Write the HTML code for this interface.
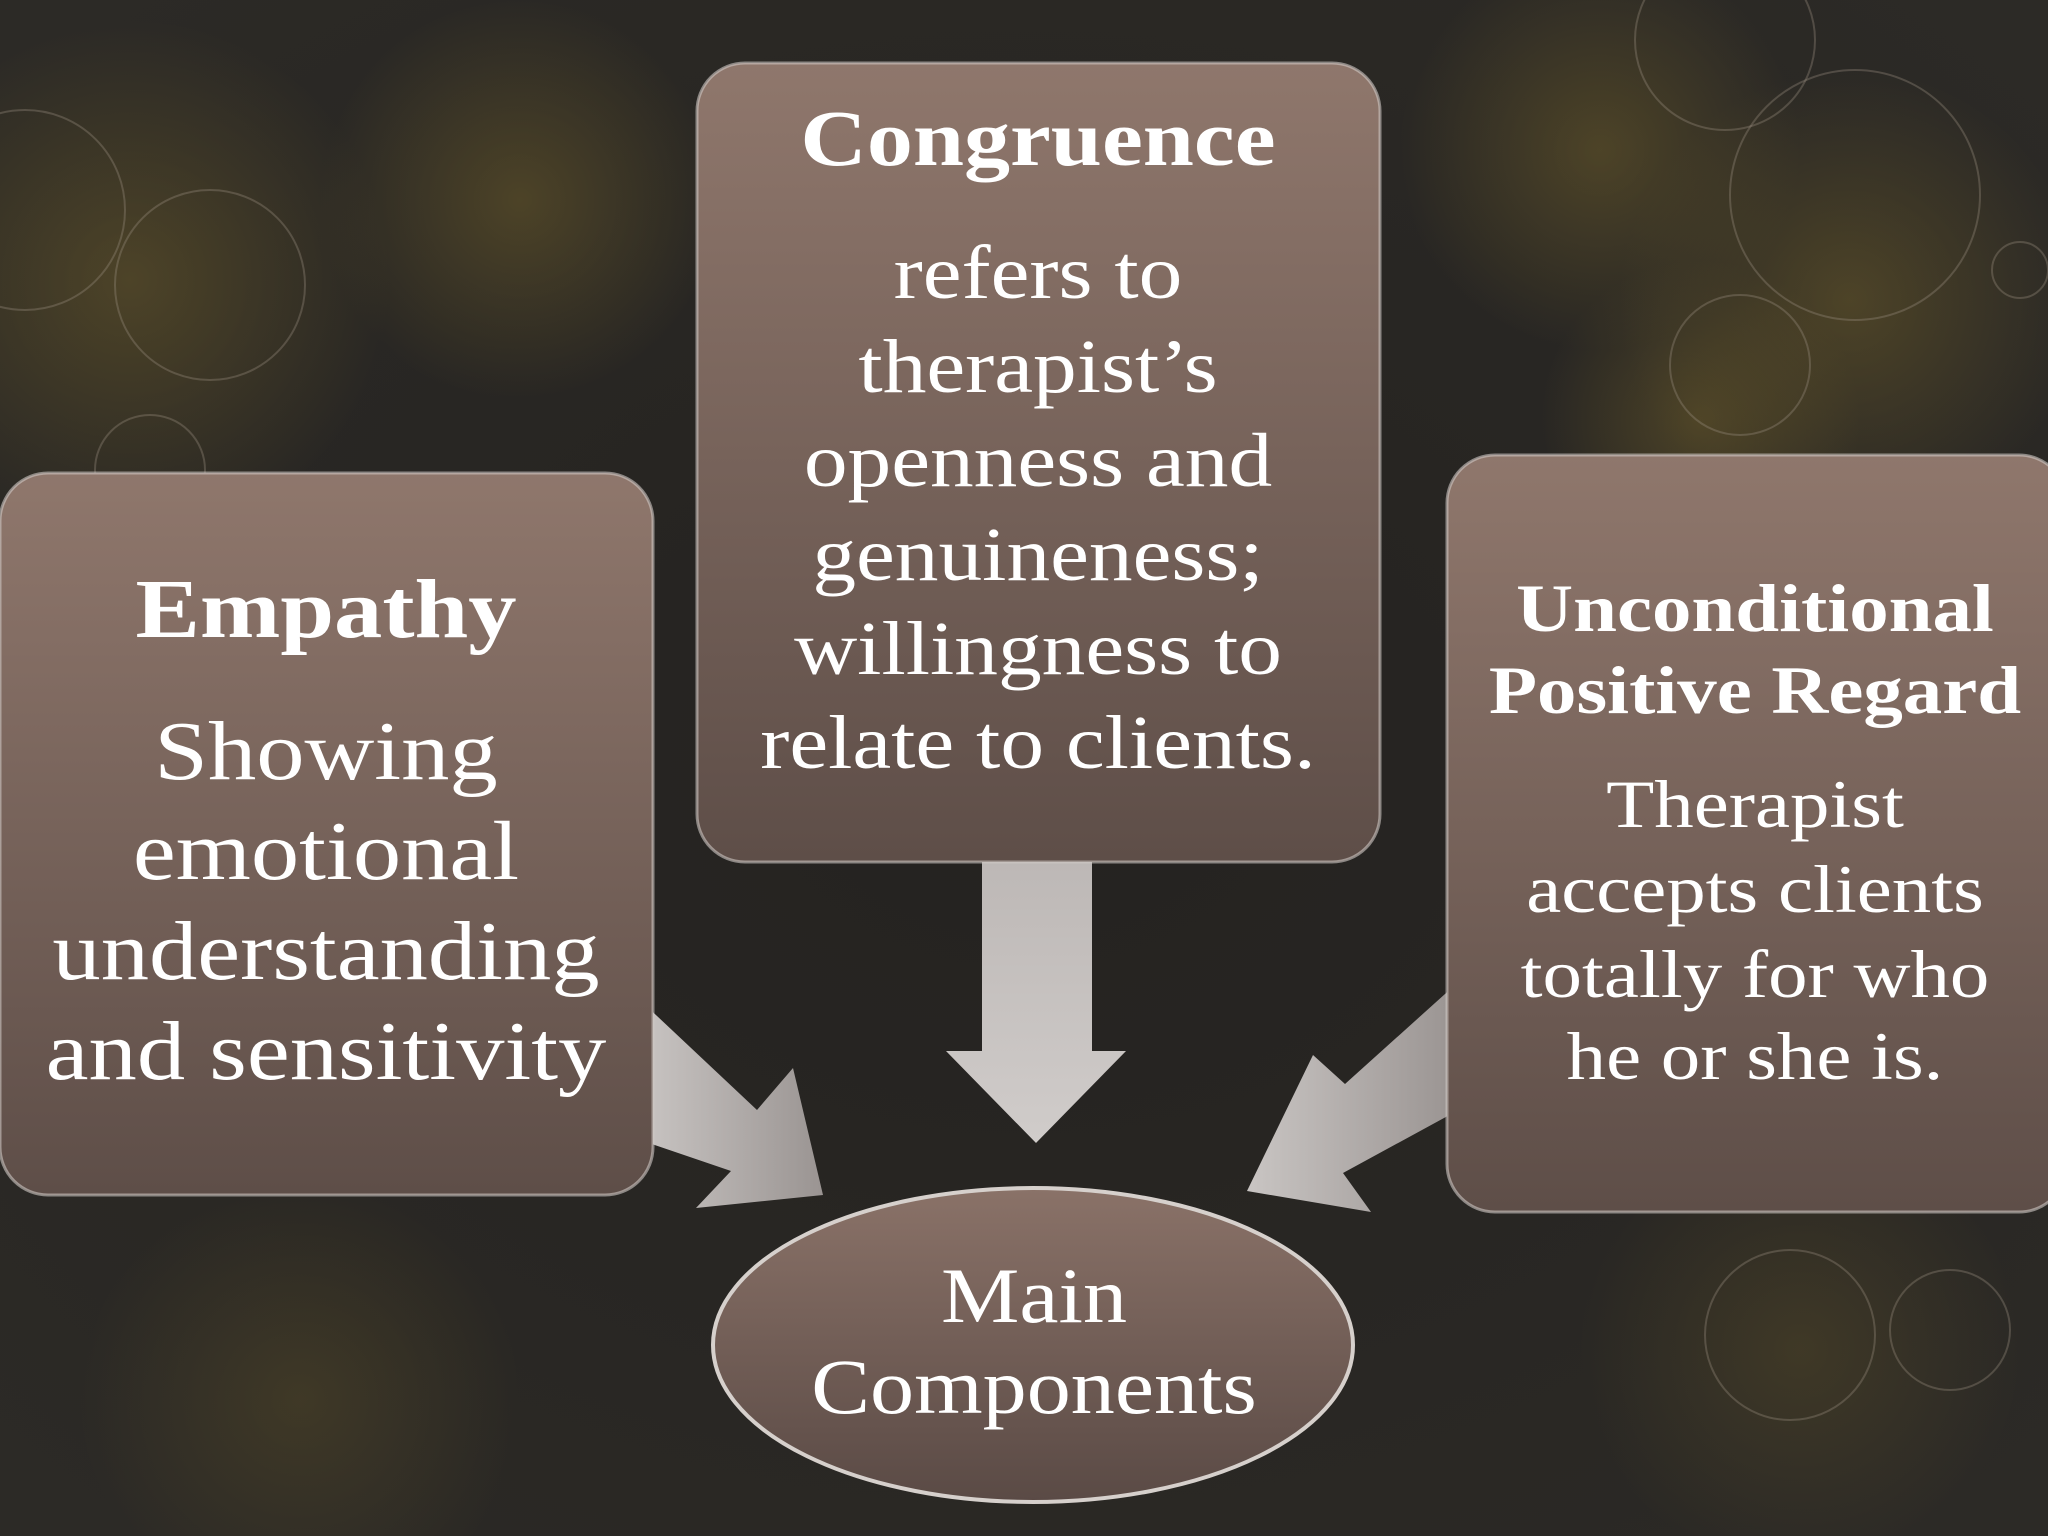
<!DOCTYPE html>
<html><head><meta charset="utf-8"><style>
html,body{margin:0;padding:0;background:#262422;overflow:hidden;width:2048px;height:1536px}
svg{display:block}
text{font-family:"Liberation Serif",serif;fill:#fff;text-anchor:middle}
</style></head><body>
<svg width="2048" height="1536" viewBox="0 0 2048 1536" xmlns="http://www.w3.org/2000/svg">
<defs>
<radialGradient id="bg" cx="0.5" cy="0.5" r="0.7">
<stop offset="0" stop-color="#242220"/><stop offset="1" stop-color="#2c2a26"/></radialGradient>
<radialGradient id="gl" cx="0.5" cy="0.5" r="0.5">
<stop offset="0" stop-color="#6a5a2a" stop-opacity="0.55"/><stop offset="1" stop-color="#6a5a2a" stop-opacity="0"/></radialGradient>
<linearGradient id="box" x1="0" y1="0" x2="0" y2="1">
<stop offset="0" stop-color="#8f776c"/><stop offset="1" stop-color="#5e4e48"/></linearGradient>
<linearGradient id="ell" x1="0" y1="0" x2="0" y2="1">
<stop offset="0" stop-color="#8a7268"/><stop offset="1" stop-color="#5a4a45"/></linearGradient>
<linearGradient id="arr" x1="0" y1="0" x2="1" y2="0">
<stop offset="0" stop-color="#c9c5c3"/><stop offset="1" stop-color="#9a9492"/></linearGradient>
<linearGradient id="arrv" x1="0" y1="0" x2="0" y2="1">
<stop offset="0" stop-color="#bdb8b6"/><stop offset="1" stop-color="#d0ccca"/></linearGradient>
</defs>
<rect width="2048" height="1536" fill="url(#bg)"/>
<circle cx="130" cy="280" r="260" fill="url(#gl)"/>
<circle cx="520" cy="200" r="200" fill="url(#gl)"/>
<circle cx="1600" cy="150" r="200" fill="url(#gl)"/>
<circle cx="1850" cy="300" r="230" fill="url(#gl)"/>
<circle cx="1700" cy="420" r="160" fill="url(#gl)"/>
<circle cx="300" cy="1400" r="220" fill="url(#gl)" opacity="0.6"/>
<circle cx="1800" cy="1350" r="220" fill="url(#gl)" opacity="0.6"/>
<g fill="none" stroke="#9a9080" stroke-opacity="0.35" stroke-width="2">
<circle cx="25" cy="210" r="100"/><circle cx="210" cy="285" r="95"/><circle cx="150" cy="470" r="55"/>
<circle cx="1855" cy="195" r="125"/><circle cx="1740" cy="365" r="70"/><circle cx="1725" cy="40" r="90"/>
<circle cx="2020" cy="270" r="28"/><circle cx="1790" cy="1335" r="85"/><circle cx="1950" cy="1330" r="60"/>
</g>
<polygon points="982,862 1092,862 1092,1051 1126,1051 1036,1143 946,1051 982,1051" fill="url(#arrv)"/>
<polygon points="640,1000 757,1110 793,1068 823,1195 696,1208 731,1171 640,1140" fill="url(#arr)"/>
<polygon points="1455,985 1345,1084 1313,1055 1247,1191 1371,1212 1343,1173 1455,1112" fill="url(#arr)"/>
<rect x="697" y="63" width="683" height="799" rx="48" fill="url(#box)" stroke="#cfc8c4" stroke-opacity="0.6" stroke-width="3"/>
<rect x="0" y="473" width="653" height="722" rx="48" fill="url(#box)" stroke="#cfc8c4" stroke-opacity="0.6" stroke-width="3"/>
<rect x="1447" y="455" width="620" height="757" rx="48" fill="url(#box)" stroke="#cfc8c4" stroke-opacity="0.6" stroke-width="3"/>
<ellipse cx="1033" cy="1345" rx="320" ry="157" fill="url(#ell)" stroke="#d6d0cc" stroke-width="4"/>
<g transform="translate(1038,0) scale(1.15,1)">
<text x="0" y="165" font-size="80" font-weight="bold">Congruence</text>
<g font-size="76">
<text x="0" y="298">refers to</text>
<text x="0" y="392">therapist’s</text>
<text x="0" y="486">openness and</text>
<text x="0" y="580">genuineness;</text>
<text x="0" y="674">willingness to</text>
<text x="0" y="768">relate to clients.</text>
</g></g>
<g transform="translate(326,0) scale(1.15,1)">
<text x="0" y="637" font-size="84" font-weight="bold">Empathy</text>
<g font-size="84">
<text x="0" y="779">Showing</text>
<text x="0" y="879">emotional</text>
<text x="0" y="979">understanding</text>
<text x="0" y="1079">and sensitivity</text>
</g></g>
<g transform="translate(1755,0) scale(1.16,1)">
<text x="0" y="631" font-size="68" font-weight="bold">Unconditional</text>
<text x="0" y="713" font-size="68" font-weight="bold">Positive Regard</text>
<g font-size="68">
<text x="0" y="827">Therapist</text>
<text x="0" y="912">accepts clients</text>
<text x="0" y="997">totally for who</text>
<text x="0" y="1079">he or she is.</text>
</g></g>
<g transform="translate(1034,0) scale(1.13,1)">
<text x="0" y="1322" font-size="78">Main</text>
<text x="0" y="1413" font-size="78">Components</text>
</g>
</svg>
</body></html>
